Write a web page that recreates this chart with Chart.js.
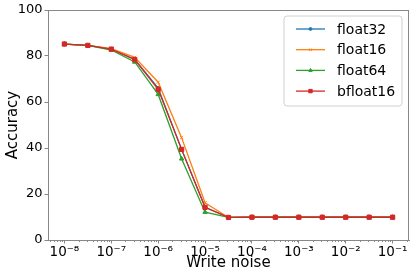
<!DOCTYPE html>
<html>
<head>
<meta charset="utf-8">
<script src="https://cdn.jsdelivr.net/npm/chart.js@4"></script>
<style>
  body { margin: 0; background: #fff; }
</style>
</head>
<body>
<canvas id="accChart" width="415" height="277"></canvas>
<script>
// write noise levels (half-decade steps)
var noise = [1e-8, 3.16e-8, 1e-7, 3.16e-7, 1e-6, 3.16e-6, 1e-5, 3.16e-5,
             1e-4, 3.16e-4, 1e-3, 3.16e-3, 1e-2, 3.16e-2, 1e-1];

// accuracy per dtype
var float32  = [85.2, 84.6, 83.0, 78.6, 66.0, 39.4, 14.2, 9.8, 9.9, 9.9, 9.9, 9.9, 9.9, 9.9, 9.9];
var float16  = [85.2, 84.6, 83.2, 79.4, 68.6, 44.5, 16.2, 9.8, 9.9, 9.9, 9.9, 9.9, 9.9, 9.9, 9.9];
var float64  = [85.2, 84.6, 82.6, 77.4, 63.3, 35.3, 12.1, 9.8, 9.9, 9.9, 9.9, 9.9, 9.9, 9.9, 9.9];
var bfloat16 = [85.2, 84.6, 83.0, 78.4, 65.5, 39.4, 14.2, 9.8, 9.9, 9.9, 9.9, 9.9, 9.9, 9.9, 9.9];

var xTicks = [1e-8, 1e-7, 1e-6, 1e-5, 1e-4, 1e-3, 1e-2, 1e-1];
var yTicks = [0, 20, 40, 60, 80, 100];

var FONT = "'DejaVu Sans', sans-serif";
var AXIS = '#888';
var sup = {'-': '\u207b', '0': '\u2070', '1': '\u00b9', '2': '\u00b2', '3': '\u00b3',
           '4': '\u2074', '5': '\u2075', '6': '\u2076', '7': '\u2077', '8': '\u2078', '9': '\u2079'};

function mk(label, values, color, style, radius, order) {
  return {
    label: label,
    data: noise.map(function (x, i) { return {x: x, y: values[i]}; }),
    borderColor: color,
    backgroundColor: color,
    borderWidth: 1.3,
    pointStyle: style,
    pointRadius: radius,
    pointBorderWidth: 1,
    pointBorderColor: color,
    pointBackgroundColor: color,
    order: order
  };
}

var datasets = [
  mk('float32', float32, '#1f77b4', 'circle', 1.8, 3),
  mk('float16', float16, '#ff7f0e', 'crossRot', 2.2, 2),
  mk('float64', float64, '#2ca02c', 'triangle', 2.5, 1),
  mk('bfloat16', bfloat16, '#d62728', 'rect', 3, 0)
];

// frame, minor ticks and legend inside the plot
var decor = {
  id: 'decor',
  afterDraw: function (chart) {
    var c = chart.ctx, a = chart.chartArea, xs = chart.scales.x;
    c.save();
    c.strokeStyle = AXIS;
    c.lineWidth = 1;
    c.strokeRect(a.left + 0.5, a.top + 0.5, a.right - a.left - 1, a.bottom - a.top);
    // minor ticks
    c.beginPath();
    for (var d = -9; d <= -1; d++) {
      for (var k = 2; k <= 9; k++) {
        var v = k * Math.pow(10, d);
        if (v < xs.min || v > xs.max) continue;
        var px = Math.round(xs.getPixelForValue(v)) + 0.5;
        c.moveTo(px, a.bottom);
        c.lineTo(px, a.bottom + 2);
      }
    }
    c.stroke();
    // legend
    var bx = 284, by = 16, bw = 118, bh = 90, r = 3;
    c.fillStyle = 'rgba(255,255,255,0.8)';
    c.strokeStyle = '#d0d0d0';
    c.beginPath();
    c.moveTo(bx + r, by);
    c.arcTo(bx + bw, by, bx + bw, by + bh, r);
    c.arcTo(bx + bw, by + bh, bx, by + bh, r);
    c.arcTo(bx, by + bh, bx, by, r);
    c.arcTo(bx, by, bx + bw, by, r);
    c.closePath();
    c.fill();
    c.stroke();
    c.font = '14px ' + FONT;
    c.textBaseline = 'middle';
    chart.data.datasets.forEach(function (ds, i) {
      var yy = 29 + i * 20.7;
      var pt = {pointStyle: ds.pointStyle, radius: ds.pointRadius * 0.8, borderWidth: 1};
      c.strokeStyle = ds.borderColor;
      c.lineWidth = ds.borderWidth;
      c.beginPath();
      c.moveTo(296, yy);
      c.lineTo(325, yy);
      c.stroke();
      c.lineWidth = 1;
      c.fillStyle = ds.borderColor;
      Chart.helpers.drawPoint(c, pt, 310.5, yy);
      c.fillStyle = '#000';
      c.fillText(ds.label, 337, yy + 1);
    });
    c.restore();
  }
};

new Chart(document.getElementById('accChart').getContext('2d'), {
  type: 'line',
  data: { datasets: datasets },
  plugins: [decor],
  options: {
    responsive: false,
    animation: false,
    layout: { padding: { top: 10, right: 6, left: 0, bottom: 0 } },
    plugins: { legend: { display: false }, tooltip: { enabled: false } },
    scales: {
      x: {
        type: 'logarithmic',
        min: Math.pow(10, -8.35),
        max: Math.pow(10, -0.65),
        afterBuildTicks: function (s) { s.ticks = xTicks.map(function (v) { return {value: v}; }); },
        afterFit: function (s) { s.height = 37; },
        grid: { drawOnChartArea: false, color: AXIS, tickLength: 3.5 },
        border: { color: AXIS },
        ticks: {
          color: '#000',
          font: { family: FONT, size: 13.5 },
          padding: 1,
          maxRotation: 0,
          autoSkip: false,
          callback: function (v) {
            var e = String(Math.round(Math.log10(v)));
            return '10' + e.split('').map(function (ch) { return sup[ch]; }).join('');
          }
        },
        title: { display: true, text: 'Write noise', color: '#000', font: { family: FONT, size: 15 }, padding: { top: 0, bottom: 5 } }
      },
      y: {
        min: 0,
        max: 100,
        afterBuildTicks: function (s) { s.ticks = yTicks.map(function (v) { return {value: v}; }); },
        afterFit: function (s) { s.width = 48; },
        grid: { drawOnChartArea: false, color: AXIS, tickLength: 3.5 },
        border: { color: AXIS },
        ticks: { color: '#000', font: { family: FONT, size: 13 }, padding: 2 },
        title: { display: true, text: 'Accuracy', color: '#000', font: { family: FONT, size: 15 }, padding: { top: 4, bottom: 0 } }
      }
    }
  }
});
</script>
</body>
</html>
